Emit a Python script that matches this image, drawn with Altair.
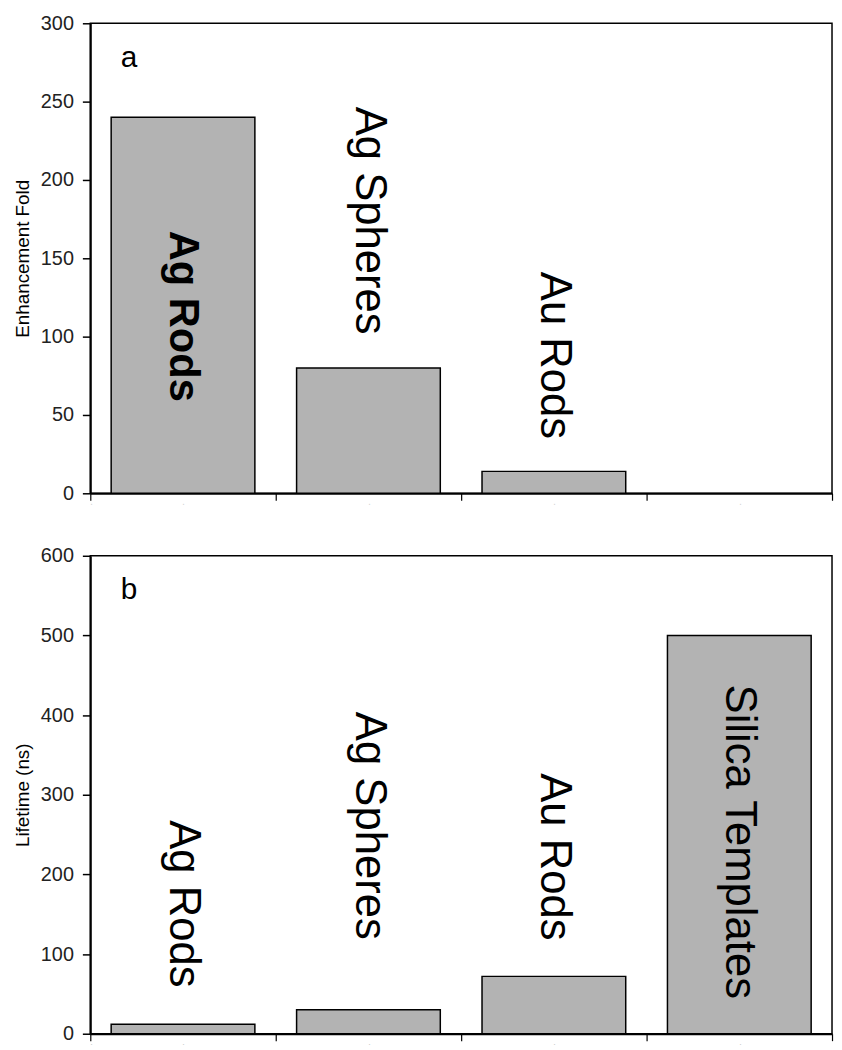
import altair as alt
import pandas as pd

categories = ["Ag Rods", "Ag Spheres", "Au Rods", "Silica Templates"]
enhancement = [240, 80, 14, None]
enh_label_pos = [113, 174, 88, None]
enh_bold = [True, False, False, False]
lifetime = [12, 30, 72, 500]
life_label_pos = [163, 261, 222, 241]
life_bold = [False, False, False, False]

FONT = "Liberation Sans"

df_a = pd.DataFrame({"cat": categories, "val": enhancement, "lp": enh_label_pos, "b": enh_bold})
df_b = pd.DataFrame({"cat": categories, "val": lifetime, "lp": life_label_pos, "b": life_bold})

W = 748


def xenc():
    return alt.X(
        "cat:N",
        sort=categories,
        scale=alt.Scale(domain=categories, paddingInner=0, paddingOuter=0),
        axis=alt.Axis(
            title=None,
            tickBand="extent",
            labelExpr="'·'",
            labelFontSize=9,
            labelColor="#c8c8c8",
            labelPadding=2,
            tickSize=7,
            tickColor="black",
            tickWidth=1.2,
            domainColor="black",
            domainWidth=2,
        ),
    )


def yaxis(title, step):
    return alt.Axis(
        title=title,
        values=list(range(0, 601, step)),
        titleFont=FONT,
        titleFontSize=19,
        titleFontWeight="normal",
        titleColor="black",
        titlePadding=8,
        labelFont=FONT,
        labelFontSize=20,
        labelColor="#222",
        labelPadding=9,
        tickSize=8,
        tickColor="black",
        tickWidth=1.5,
        domainColor="black",
        domainWidth=2,
        grid=False,
    )


def panel(df, maxv, step, ytitle, letter, h):
    base = alt.Chart(df)
    bars = base.mark_bar(
        width=alt.RelativeBandSize(0.775),
        color="#b3b3b3",
        stroke="black",
        strokeWidth=1.5,
    ).encode(
        x=xenc(),
        y=alt.Y("val:Q", scale=alt.Scale(domain=[0, maxv], nice=False),
                axis=yaxis(ytitle, step)),
    )
    enc = dict(x=alt.X("cat:N", sort=categories), y=alt.Y("lp:Q"), text="cat:N")
    txt_normal = base.transform_filter("!datum.b && isValid(datum.lp)").mark_text(
        angle=90, align="center", baseline="middle", font=FONT, fontSize=44,
        color="black", fontWeight="normal",
    ).encode(**enc)
    txt_bold = base.transform_filter("datum.b && isValid(datum.lp)").mark_text(
        angle=90, align="center", baseline="middle", font=FONT, fontSize=42,
        color="black", fontWeight="bold",
    ).encode(**enc)
    return alt.layer(bars, txt_normal, txt_bold).properties(
        width=W,
        height=h,
        title=alt.TitleParams(
            letter, anchor="start", font=FONT, fontSize=30,
            fontWeight="normal", color="black", dx=108, dy=60, offset=0,
        ),
    )


top = panel(df_a, 300, 50, "Enhancement Fold", "a", 474)
bottom = panel(df_b, 600, 100, "Lifetime (ns)", "b", 482)

chart = alt.vconcat(top, bottom, spacing=39).properties(
    padding={"left": 4, "top": 0, "right": 0, "bottom": 0},
    background="white",
).configure_view(
    stroke="black", strokeWidth=1.5
)

chart.save("out.html", embed_options={"renderer": "svg", "actions": False})
